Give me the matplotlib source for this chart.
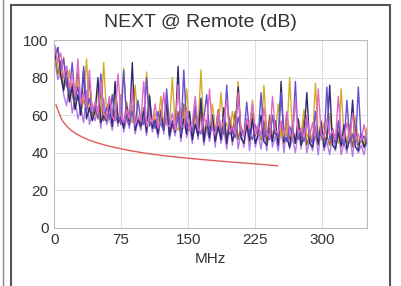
import matplotlib
matplotlib.use("Agg")
import matplotlib.pyplot as plt
import numpy as np
from matplotlib.lines import Line2D

# NEXT @ Remote, pairs (dB), evenly spaced from 1 to 350 MHz
pair_pink = [97, 88, 93, 80, 86, 74, 82, 70, 90, 66,
             72, 64, 84, 62, 67, 60, 78, 61, 58, 70,
             59, 57, 82, 60, 56, 63, 58, 74, 55, 59,
             57, 78, 54, 60, 56, 66, 53, 58, 72, 55,
             54, 61, 52, 76, 55, 53, 64, 52, 56, 70,
             53, 51, 60, 54, 74, 52, 50, 62, 53, 57,
             68, 51, 54, 50, 72, 52, 49, 58, 53, 66,
             50, 55, 49, 64, 51, 48, 70, 52, 50, 57,
             49, 62, 51, 48, 68, 50, 53, 48, 60, 49,
             56, 47, 74, 50, 48, 58, 49, 52, 47, 70,
             49, 47, 56, 48, 61, 47, 50, 46, 55, 48]
pair_blue = [93, 96, 84, 90, 76, 72, 88, 68, 75, 65,
             86, 63, 69, 61, 65, 59, 82, 60, 64, 58,
             71, 57, 60, 55, 84, 58, 56, 62, 54, 68,
             57, 55, 80, 54, 58, 53, 62, 55, 52, 74,
             54, 57, 52, 60, 50, 84, 53, 55, 51, 65,
             52, 50, 58, 71, 51, 54, 49, 62, 52, 50,
             76, 50, 53, 48, 59, 51, 49, 67, 50, 47,
             55, 49, 72, 48, 52, 47, 60, 50, 48, 72,
             48, 46, 54, 49, 78, 47, 51, 46, 58, 48,
             45, 62, 48, 50, 46, 75, 47, 52, 45, 57,
             47, 44, 68, 46, 50, 44, 75, 46, 49, 45]
pair_gold = [95, 86, 80, 91, 75, 84, 70, 66, 79, 63,
             68, 90, 62, 66, 60, 74, 58, 88, 61, 64,
             58, 70, 56, 62, 85, 58, 60, 56, 76, 57,
             59, 55, 83, 57, 54, 61, 56, 70, 53, 58,
             55, 80, 54, 52, 63, 55, 74, 53, 51, 58,
             54, 84, 52, 55, 50, 66, 53, 51, 72, 52,
             56, 50, 62, 53, 78, 51, 49, 57, 52, 68,
             50, 54, 48, 76, 51, 49, 60, 50, 66, 48,
             53, 49, 80, 50, 47, 58, 49, 63, 48, 52,
             46, 77, 49, 47, 56, 48, 61, 47, 50, 45,
             74, 48, 46, 55, 47, 59, 46, 49, 44, 53]
pair_brown = [92, 82, 89, 74, 80, 68, 77, 64, 83, 61,
              69, 63, 79, 59, 65, 58, 73, 57, 62, 69,
              56, 76, 58, 61, 55, 67, 57, 73, 54, 59,
              56, 64, 53, 71, 55, 58, 52, 63, 54, 68,
              51, 57, 53, 62, 50, 66, 52, 56, 49, 61,
              52, 64, 48, 56, 51, 60, 48, 63, 50, 55,
              47, 59, 50, 62, 47, 54, 49, 58, 46, 61,
              49, 53, 47, 57, 46, 60, 48, 52, 46, 56,
              45, 59, 47, 51, 45, 55, 47, 58, 44, 50,
              46, 54, 44, 57, 46, 49, 44, 53, 45, 56,
              43, 48, 45, 52, 43, 55, 44, 47, 43, 50]
pair_navy = [90, 96, 81, 73, 86, 67, 75, 63, 71, 60,
             84, 58, 64, 57, 62, 80, 56, 60, 57, 66,
             54, 78, 56, 59, 53, 64, 55, 88, 52, 58,
             54, 62, 51, 70, 53, 57, 50, 61, 52, 66,
             49, 56, 51, 86, 48, 58, 50, 62, 47, 55,
             49, 69, 46, 57, 48, 60, 46, 54, 47, 64,
             45, 56, 46, 52, 75, 48, 45, 55, 47, 58,
             45, 50, 60, 46, 44, 53, 46, 57, 44, 78,
             46, 48, 43, 54, 45, 58, 44, 49, 72, 45,
             43, 52, 45, 56, 43, 48, 76, 44, 42, 51,
             44, 55, 42, 47, 68, 43, 41, 50, 43, 46]
pair_violet = [88, 79, 84, 71, 65, 77, 61, 69, 58, 64,
               56, 73, 55, 61, 57, 65, 53, 69, 55, 59,
               52, 63, 54, 71, 51, 58, 53, 65, 50, 57,
               52, 61, 49, 67, 51, 56, 48, 60, 50, 64,
               47, 55, 49, 59, 46, 62, 48, 54, 45, 58,
               47, 61, 44, 53, 46, 57, 43, 60, 45, 52,
               42, 56, 44, 59, 42, 51, 43, 55, 41, 58,
               43, 50, 42, 54, 41, 57, 43, 49, 41, 53,
               40, 56, 42, 48, 40, 52, 42, 55, 40, 47,
               41, 51, 39, 54, 41, 46, 39, 50, 41, 53,
               39, 45, 40, 49, 38, 52, 40, 44, 39, 47]

limit_mhz = [2, 4, 8, 10, 16, 20, 25, 31.25, 40, 50, 62.5, 80, 100, 125, 150, 175, 200, 225, 250]
limit_db = [65.5, 63.0, 58.2, 56.6, 53.2, 51.6, 50.0, 48.4, 46.6, 45.0, 43.4, 41.6, 39.9,
            38.3, 37.1, 36.0, 35.0, 34.1, 33.1]

xticks = [0, 75, 150, 225, 300]
yticks = [0, 20, 40, 60, 80, 100]

traces = [
    (pair_violet, "#b27ae6"),
    (pair_brown, "#9c6234"),
    (pair_gold, "#d4aa2a"),
    (pair_navy, "#2e2c6e"),
    (pair_blue, "#6650d6"),
    (pair_pink, "#e06ac4"),
]

plt.rcParams["font.family"] = ["Liberation Sans", "DejaVu Sans"]

fig = plt.figure(figsize=(4.01, 2.86), dpi=100)
ax = fig.add_axes([0.135, 0.203, 0.78, 0.657])

for vals, col in traces:
    f = np.linspace(1, 350, len(vals))
    ax.plot(f, vals, color=col, lw=1.0)

ax.plot(limit_mhz, limit_db, color="#e05a5a", lw=1.0)

ax.set_xlim(0, 350)
ax.set_ylim(0, 100)
ax.set_xticks(xticks)
ax.set_yticks(yticks)
ax.grid(True, color="#dddddd", lw=0.7)
ax.set_axisbelow(True)
ax.tick_params(length=0, labelsize=11, colors="#333333", pad=4)
for s in ax.spines.values():
    s.set_color("#bbbbbb")
ax.set_xlabel("MHz", fontsize=11, color="#333333", labelpad=3)
fig.text(0.5, 0.923, "NEXT @ Remote (dB)", ha="center", va="center", fontsize=14, color="#333333")

# panel frame
def fline(x0, y0, x1, y1, c, w):
    fig.add_artist(Line2D([x0 / 401, x1 / 401], [1 - y0 / 286, 1 - y1 / 286],
                          transform=fig.transFigure, color=c, lw=w))

fline(3, 0, 3, 286, "#888888", 1.0)
fline(11, 5, 11, 286, "#555555", 1.5)
fline(11, 5, 390, 5, "#555555", 1.5)
fline(390, 5, 390, 286, "#555555", 1.5)

fig.savefig("out.png", dpi=100)
